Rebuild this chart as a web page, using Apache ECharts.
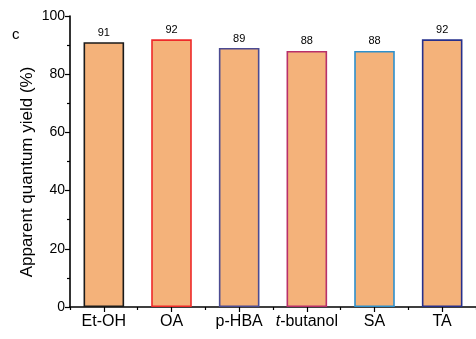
<!DOCTYPE html>
<html>
<head>
<meta charset="utf-8">
<script src="https://cdn.jsdelivr.net/npm/echarts@6/dist/echarts.min.js"></script>
<style>
  html, body { margin: 0; padding: 0; background: #fff; }
  #chart { width: 476px; height: 339px; }
</style>
</head>
<body>
<div id="chart"></div>
<script>
// Scavengers tested and the apparent quantum yield obtained with each
const categories = ['Et-OH', 'OA', 'p-HBA', 't-butanol', 'SA', 'TA'];
const yieldValues = [91, 92, 89, 88, 88, 92];
const borderColors = ['#1a1a1a', '#ee2a2a', '#4b4b92', '#b8306a', '#2e90cc', '#26308c'];
const yTicks = [0, 20, 40, 60, 80, 100];

const FONT = '"Liberation Sans", Arial, Helvetica, sans-serif';
const chart = echarts.init(document.getElementById('chart'), null, { renderer: 'canvas' });

chart.setOption({
  animation: false,
  textStyle: { fontFamily: FONT, color: '#000' },
  graphic: [
    { type: 'text', left: 12, top: 27, style: { text: 'c', font: '15px ' + FONT, fill: '#000' } },
    {
      type: 'text', x: 27, y: 172, rotation: Math.PI / 2,
      style: { text: 'Apparent quantum yield (%)', font: '17px ' + FONT, fill: '#000',
               align: 'center', verticalAlign: 'middle' }
    }
  ],
  grid: { left: 70, right: 0, top: 16, bottom: 32 },
  xAxis: [
    {
      type: 'category', data: categories,
      axisLine: { show: true, lineStyle: { color: '#000', width: 1.6 } },
      axisTick: { show: true, alignWithLabel: true, interval: 0, length: 5, lineStyle: { color: '#000', width: 1.2 } },
      axisLabel: {
        interval: 0, fontSize: 16, color: '#000', margin: 7, fontFamily: FONT,
        formatter: v => v === 't-butanol' ? '{i|t}-butanol' : v,
        rich: { i: { fontStyle: 'italic', fontSize: 16, fontFamily: FONT, color: '#000' } }
      }
    },
    {
      // boundary ticks between categories
      type: 'category', data: categories, position: 'bottom',
      axisLine: { show: false },
      axisTick: { show: true, alignWithLabel: false, interval: 0, length: 3, lineStyle: { color: '#000', width: 1.2 } },
      axisLabel: { show: false }
    }
  ],
  yAxis: {
    type: 'value', min: yTicks[0], max: yTicks[yTicks.length - 1], interval: 20,
    axisLine: { show: true, lineStyle: { color: '#000', width: 1.6 } },
    axisTick: { show: true, length: 5, lineStyle: { color: '#000', width: 1.2 } },
    minorTick: { show: true, splitNumber: 2, length: 3, lineStyle: { color: '#000', width: 1.2 } },
    splitLine: { show: false },
    axisLabel: { fontSize: 14, color: '#000', margin: 5, fontFamily: FONT }
  },
  series: [{
    type: 'bar',
    xAxisIndex: 0,
    barWidth: '60%',
    data: yieldValues.map((v, i) => ({
      value: v,
      itemStyle: { color: '#F4B27A', borderColor: borderColors[i], borderWidth: 1.6 }
    })),
    label: { show: true, position: 'top', distance: 4, fontSize: 11, color: '#000', fontFamily: FONT }
  }]
});
</script>
</body>
</html>
